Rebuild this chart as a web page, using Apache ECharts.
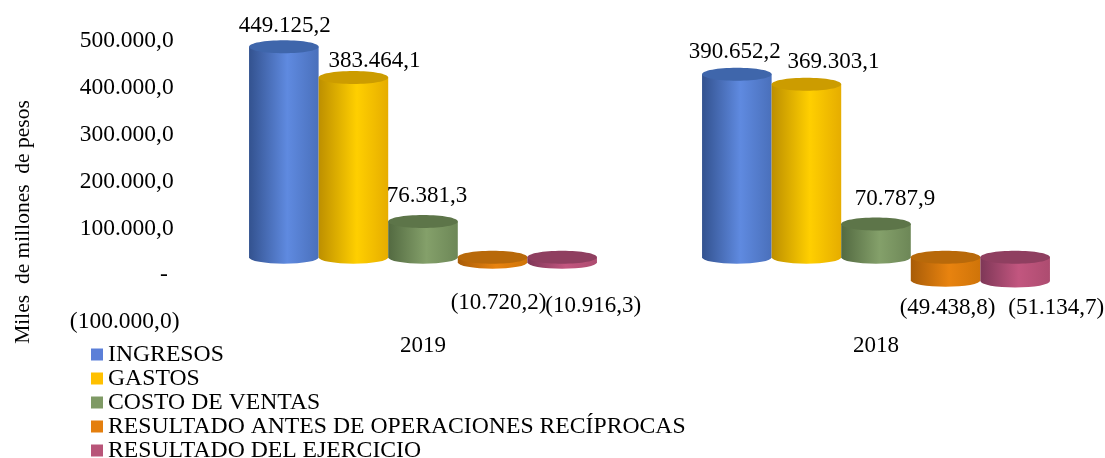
<!DOCTYPE html>
<html>
<head>
<meta charset="utf-8">
<style>
html, body { margin: 0; padding: 0; background: #fff; }
#chart { width: 1105px; height: 458px; }
</style>
<script src="https://cdn.jsdelivr.net/npm/echarts@6/dist/echarts.min.js"></script>
</head>
<body>
<div id="chart"></div>
<script>
var categories = ['2019', '2018'];
var seriesNames = ['INGRESOS', 'GASTOS', 'COSTO DE VENTAS', 'RESULTADO ANTES DE OPERACIONES RECÍPROCAS', 'RESULTADO DEL EJERCICIO'];
var ingresos = [449125.2, 390652.2];
var gastos = [383464.1, 369303.1];
var costoVentas = [76381.3, 70787.9];
var resultadoAntes = [-10720.2, -49438.8];
var resultadoEjercicio = [-10916.3, -51134.7];
var allValues = [ingresos, gastos, costoVentas, resultadoAntes, resultadoEjercicio];

// colores: leyenda, borde izq, medio, borde der, tapa
var palette = [
	['#5b7fd8', '#33528f', '#5f8ae0', '#4a70bb', '#3f66ab'],
	['#ffc000', '#bd8f00', '#ffcf00', '#e6ad00', '#cc9c00'],
	['#7f9a65', '#536a41', '#84a06a', '#6d8757', '#5d7549'],
	['#e47f0e', '#a85c08', '#e8830f', '#cf7409', '#b8690a'],
	['#b85478', '#7e3757', '#c2567f', '#ad4c70', '#8f3f60']
];

// etiqueta respecto del extremo de la barra [dx, dy], por categoria y serie
var labelOffsets = [
	[[1, -21], [21, -17], [4, -25], [6, 41], [31, 44]],
	[[-2, -22], [27, -22], [19, -25], [2, 28], [41, 27]]
];

function numFmt(v) {
	var abs = Math.abs(v).toFixed(1).split('.');
	var s = abs[0].replace(/\B(?=(\d{3})+$)/g, '.') + ',' + abs[1];
	return v < 0 ? '(' + s + ')' : s;
}

function cylinder(idx) {
	return function (params, api) {
		var cat = api.value(0);
		var val = api.value(1);
		var band = api.size([1, 0])[0];
		var w = band * 0.768 / 5;
		var center = api.coord([cat, 0]);
		var zeroY = center[1];
		var endY = api.coord([cat, val])[1];
		var cx = center[0] + (idx - 2) * w;
		var x0 = cx - w / 2;
		var ry = 6.5;
		var pal = palette[idx];
		var topY = Math.min(zeroY, endY);
		var botY = Math.max(zeroY, endY);
		var grad = new echarts.graphic.LinearGradient(0, 0, 1, 0, [
			{ offset: 0, color: pal[1] },
			{ offset: 0.55, color: pal[2] },
			{ offset: 1, color: pal[3] }
		]);
		var offs = labelOffsets[params.dataIndex][idx];
		return {
			type: 'group',
			children: [
				{
					type: 'path',
					shape: {
						pathData: 'M' + x0 + ' ' + topY + 'L' + x0 + ' ' + botY +
							'A' + (w / 2) + ' ' + ry + ' 0 0 0 ' + (x0 + w) + ' ' + botY +
							'L' + (x0 + w) + ' ' + topY + 'Z',
						layout: 'cover'
					},
					style: { fill: grad }
				},
				{
					type: 'ellipse',
					shape: { cx: cx, cy: topY, rx: w / 2, ry: ry },
					style: { fill: pal[4] }
				},
				{
					type: 'text',
					x: cx + offs[0],
					y: endY + offs[1],
					style: {
						text: numFmt(val),
						fill: '#000',
						font: '23px "Liberation Serif"',
						align: 'center',
						verticalAlign: 'middle'
					}
				}
			]
		};
	};
}

var myChart = echarts.init(document.getElementById('chart'));

var series = [];
for (var i = 0; i < seriesNames.length; i++) {
	series.push({
		name: seriesNames[i],
		type: 'custom',
		renderItem: cylinder(i),
		itemStyle: { color: palette[i][0] },
		encode: { x: 0, y: 1 },
		clip: false,
		data: categories.map(function (c, j) { return [j, allValues[i][j]]; })
	});
}

var option = {
	backgroundColor: '#fff',
	animation: false,
	textStyle: { fontFamily: 'Liberation Serif', color: '#000' },
	grid: { left: 196.5, right: 2.5, top: 23, height: 281 },
	legend: {
		orient: 'vertical',
		left: 91,
		top: 342.5,
		height: 200,
		padding: 0,
		icon: 'rect',
		itemWidth: 12,
		itemHeight: 12,
		itemGap: 0,
		textStyle: { fontFamily: 'Liberation Serif', fontSize: 23.7, lineHeight: 23.3, color: '#000' },
		data: seriesNames
	},
	xAxis: {
		type: 'category',
		data: categories,
		axisLine: { show: false },
		axisTick: { show: false },
		axisLabel: { fontSize: 23, color: '#000', margin: 30, fontFamily: 'Liberation Serif' }
	},
	yAxis: {
		type: 'value',
		min: -100000,
		max: 500000,
		interval: 100000,
		splitLine: { show: false },
		axisLine: { show: false },
		axisTick: { show: false },
		axisLabel: {
			fontSize: 23.5,
			color: '#000',
			margin: 17,
			fontFamily: 'Liberation Serif',
			verticalAlign: 'top',
			lineHeight: 28,
			padding: [4, 0, 0, 0],
			formatter: function (v) {
				if (v === 0) return '-\u00a0\u00a0';
				return v < 0 ? numFmt(v) : numFmt(v) + '\u00a0';
			}
		}
	},
	graphic: [
		{
			type: 'text',
			x: 23,
			y: 222,
			rotation: Math.PI / 2,
			style: {
				text: 'Miles  de millones  de pesos',
				fill: '#000',
				font: '21.5px "Liberation Serif"',
				align: 'center',
				verticalAlign: 'middle'
			}
		}
	],
	series: series
};

myChart.setOption(option);
</script>
</body>
</html>
